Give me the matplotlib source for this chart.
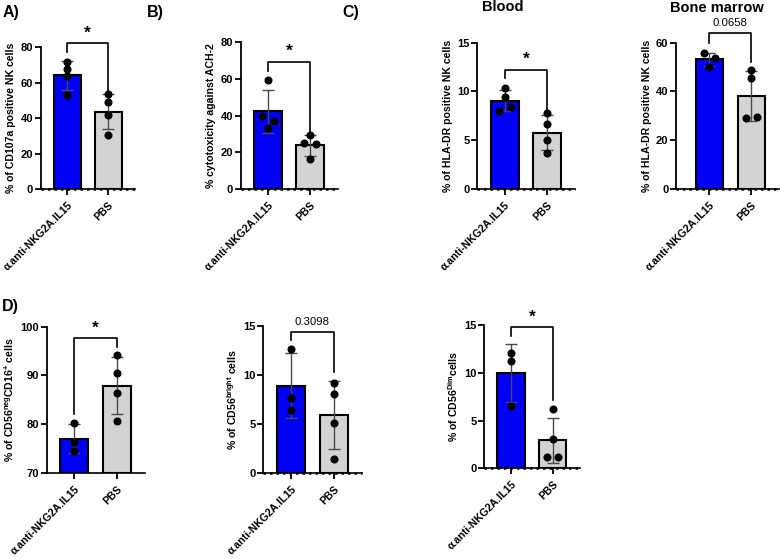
import numpy as np
import matplotlib
matplotlib.use("Agg")
import matplotlib.pyplot as plt

plt.rcParams["font.family"] = ["Liberation Sans", "DejaVu Sans"]
plt.rcParams["font.weight"] = "bold"
plt.rcParams["axes.labelweight"] = "bold"
plt.rcParams["mathtext.fontset"] = "custom"
plt.rcParams["mathtext.rm"] = "Liberation Sans:bold"
plt.rcParams["mathtext.it"] = "Liberation Sans:bold"
plt.rcParams["mathtext.bf"] = "Liberation Sans:bold"

groups = ["α.anti-NKG2A.IL15", "PBS"]

# points per panel (treated, PBS)
cd107a = ([71.9, 67.8, 63.8, 53.1], [53.5, 48.9, 41.8, 30.7])
cytotox = ([59.5, 40.0, 37.3, 33.1], [29.5, 25.0, 24.5, 16.2])
hladr_blood = ([10.4, 9.4, 8.03, 8.44], [7.76, 6.66, 5.02, 3.72])
hladr_bm = ([55.6, 53.6, 50.2], [48.8, 45.4, 29.0, 29.4])
cd56neg = ([80.2, 76.4, 74.4], [94.1, 90.5, 86.3, 80.6])
cd56bright = ([12.66, 7.64, 6.45], [9.23, 8.08, 5.09, 1.43])
cd56dim = ([12.1, 11.27, 6.52], [6.2, 3.07, 1.22, 1.22])

# significance: label, bracket level, left leg end, right leg end
sig_cd107a = ("*", 82.3, 77.5, 54.0)
sig_cytotox = ("*", 69.5, 64.5, 31.3)
sig_blood = ("*", 12.2, 11.4, 8.1)
sig_bm = ("0.0658", 63.8, 60.0, 52.2)
sig_cd56neg = ("*", 97.6, 82.1, 95.9)
sig_bright = ("0.3098", 14.4, 13.6, 10.35)
sig_dim = ("*", 14.76, 13.85, 7.15)

W, H = 780, 559
BLUE = "#0000F5"
GREY = "#D3D3D3"
ERR = "#4a4a4a"


def swarm_offsets(vals, yspan, ax_h, dot_px=6.5, step=0.14):
    """Spread points that would overlap, a bit like GraphPad."""
    vals = np.asarray(vals, dtype=float)
    px = vals / yspan * ax_h
    order = np.argsort(-px, kind="stable")
    clusters, cur = [], [order[0]]
    for i in order[1:]:
        if px[cur[-1]] - px[i] < dot_px:
            cur.append(i)
        else:
            clusters.append(cur)
            cur = [i]
    clusters.append(cur)
    offs = np.zeros(len(vals))
    for c in clusters:
        c = sorted(c)
        n = len(c)
        for k, idx in enumerate(c):
            offs[idx] = (k - (n - 1) / 2) * 2 * step
    return offs


def panel(px_box, data, sig, ylim, yticks, ylabel, xleft=-0.65, dotted_base=True):
    left, right, top, bottom = px_box
    ax = fig.add_axes([left / W, 1 - bottom / H, (right - left) / W, (bottom - top) / H])
    ax_h = bottom - top
    span = ylim[1] - ylim[0]
    for i, (pts, col) in enumerate(zip(data, [BLUE, GREY])):
        pts = np.asarray(pts)
        m, sd = pts.mean(), pts.std(ddof=1)
        ax.bar(i, m - ylim[0], bottom=ylim[0], width=0.66, color=col,
               edgecolor="black", linewidth=1.5, zorder=2)
        ax.errorbar(i, m, yerr=sd, color=ERR, lw=1.0, capsize=4.5, capthick=1.0,
                    zorder=3)
        offs = swarm_offsets(pts - ylim[0], span, ax_h)
        ax.plot(i + offs, pts, "o", color="black", ms=4.8, zorder=4, clip_on=False)

    label, ybar, yl, yr = sig
    ax.plot([0, 0, 1, 1], [yl, ybar, ybar, yr], color="black", lw=1.2,
            clip_on=False, zorder=5)
    if label == "*":
        ax.text(0.5, ybar + span * 0.02, "*", ha="center", va="bottom",
                fontsize=12.5, fontweight="bold", clip_on=False)
    else:
        ax.text(0.5, ybar + span * 0.035, label, ha="center", va="bottom",
                fontsize=8.2, fontweight="normal", clip_on=False)

    ax.set_xlim(xleft, 1.66)
    ax.set_ylim(*ylim)
    ax.set_yticks(yticks)
    ax.set_xticks([0, 1])
    ax.set_xticklabels(groups, rotation=45, ha="right", rotation_mode="anchor",
                       fontsize=7.6, fontweight="bold")
    ax.tick_params(axis="y", labelsize=8, width=1.3, length=4, pad=1.5)
    ax.tick_params(axis="x", width=1.3, length=4, pad=4)
    for lab in ax.get_yticklabels():
        lab.set_fontweight("bold")
    ax.set_ylabel(ylabel, fontsize=7.6, fontweight="bold", labelpad=3)
    for s in ["top", "right"]:
        ax.spines[s].set_visible(False)
    ax.spines["left"].set_linewidth(1.3)
    ax.spines["bottom"].set_linewidth(1.2)
    if dotted_base:
        ax.axhline(ylim[0], color="black", lw=1.8, ls=(0, (1, 1.6)), zorder=1,
                   clip_on=False)
    return ax


fig = plt.figure(figsize=(W / 100, H / 100), dpi=100)

panel((40.7, 135, 47.3, 189), cd107a, sig_cd107a, (0, 80), [0, 20, 40, 60, 80],
      "% of CD107a positive NK cells")
panel((240.7, 338, 42.3, 189), cytotox, sig_cytotox, (0, 80), [0, 20, 40, 60, 80],
      "% cytotoxicity against ACH-2")
panel((477, 575, 42.7, 189), hladr_blood, sig_blood, (0, 15), [0, 5, 10, 15],
      "% of HLA-DR positive NK cells")
panel((676, 779, 42.7, 189), hladr_bm, sig_bm, (0, 60), [0, 20, 40, 60],
      "% of HLA-DR positive NK cells", xleft=-0.8)
panel((46.7, 145, 326.7, 472.8), cd56neg, sig_cd56neg, (70, 100), [70, 80, 90, 100],
      r"% of CD56$^{neg}$CD16$^{+}$ cells", dotted_base=False)
panel((263, 362, 326, 473.3), cd56bright, sig_bright, (0, 15), [0, 5, 10, 15],
      r"% of CD56$^{bright}$ cells")
panel((484, 580, 325, 468.3), cd56dim, sig_dim, (0, 15), [0, 5, 10, 15],
      r"% of CD56$^{Dim}$cells")

fig.text(503 / W, 1 - 7 / H, "Blood", ha="center", va="center", fontsize=10.5,
         fontweight="bold")
fig.text(717 / W, 1 - 8.5 / H, "Bone marrow", ha="center", va="center", fontsize=10.5,
         fontweight="bold")

for lab, x, y in [("A)", 3, 12), ("B)", 147, 12), ("C)", 342, 12), ("D)", 2, 307)]:
    fig.text(x / W, 1 - y / H, lab, ha="left", va="center", fontsize=11.5,
             fontweight="bold")

fig.savefig("out.png", dpi=100)
